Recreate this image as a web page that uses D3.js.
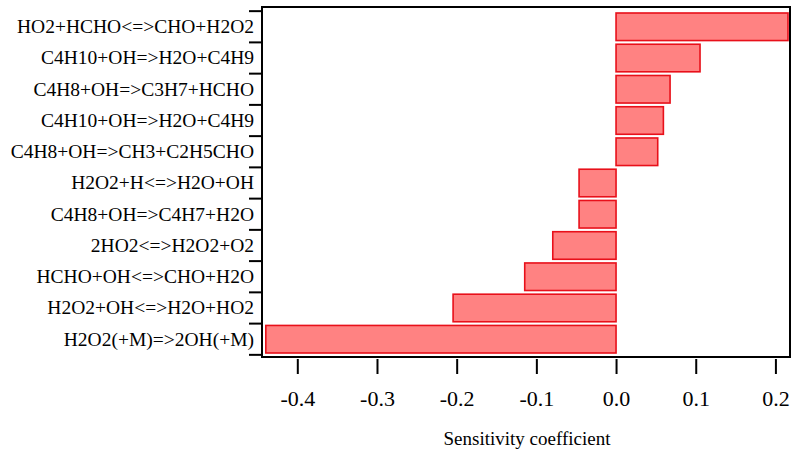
<!DOCTYPE html>
<html>
<head>
<meta charset="utf-8">
<script src="https://cdn.jsdelivr.net/npm/d3@7"></script>
<style>
  html, body { margin: 0; padding: 0; background: #fff; }
  svg { display: block; }
  text { font-family: "Liberation Serif", Tinos, "Times New Roman", Times, "DejaVu Serif", serif; fill: #000; }
</style>
</head>
<body>
<svg id="chart" width="800" height="451"></svg>
<script>
const reactions = [
  "HO2+HCHO<=>CHO+H2O2",
  "C4H10+OH=>H2O+C4H9",
  "C4H8+OH=>C3H7+HCHO",
  "C4H10+OH=>H2O+C4H9 ",
  "C4H8+OH=>CH3+C2H5CHO",
  "H2O2+H<=>H2O+OH",
  "C4H8+OH=>C4H7+H2O",
  "2HO2<=>H2O2+O2",
  "HCHO+OH<=>CHO+H2O",
  "H2O2+OH<=>H2O+HO2",
  "H2O2(+M)=>2OH(+M)"
];
const sensitivity = [0.2158, 0.1054, 0.0678, 0.0594, 0.0523, -0.0464, -0.0464, -0.0794, -0.1146, -0.2045, -0.4395];
const xTickValues = [-0.4, -0.3, -0.2, -0.1, 0.0, 0.1, 0.2];
const xTickLabels = ["-0.4", "-0.3", "-0.2", "-0.1", "0.0", "0.1", "0.2"];
const xDomain = [-0.4443, 0.2183];
const xTitle = "Sensitivity coefficient";

const FONT = '"Liberation Serif", Tinos, "Times New Roman", Times, "DejaVu Serif", serif';
const svg = d3.select("#chart");
const frame = { left: 262, right: 790, top: 7, bottom: 357 };

const x = d3.scaleLinear().domain(xDomain).range([frame.left, frame.right]);
const y = d3.scaleBand().domain(reactions).range([11.15, 354.85])
  .paddingInner(0.118).paddingOuter(0.059);

// bars
svg.append("g").selectAll("rect")
  .data(reactions.map((r, i) => ({ r, v: sensitivity[i] })))
  .join("rect")
  .attr("x", d => x(Math.min(0, d.v)))
  .attr("y", d => y(d.r))
  .attr("width", d => Math.abs(x(d.v) - x(0)))
  .attr("height", y.bandwidth())
  .attr("fill", "#ff8282")
  .attr("stroke", "#e8101a")
  .attr("stroke-width", 1.6);

// frame
svg.append("rect")
  .attr("x", frame.left).attr("y", frame.top)
  .attr("width", frame.right - frame.left)
  .attr("height", frame.bottom - frame.top)
  .attr("fill", "none").attr("stroke", "#000").attr("stroke-width", 2);

// x axis
const xAxis = d3.axisBottom(x)
  .tickValues(xTickValues)
  .tickFormat((d, i) => xTickLabels[i])
  .tickSize(15)
  .tickSizeOuter(0);
const gx = svg.append("g").attr("transform", `translate(0,${frame.bottom + 2})`).call(xAxis);
gx.attr("font-family", FONT);
gx.select(".domain").remove();
gx.selectAll(".tick line").attr("stroke", "#000").attr("stroke-width", 2);
gx.selectAll(".tick text")
  .attr("y", 46.5).attr("dy", 0)
  .style("font-size", "22px")
  .style("font-family", FONT);

// y axis: ticks at band boundaries, labels at band centers
const step = y.step();
const r0 = y.range()[0];
const boundaries = d3.range(reactions.length + 1).map(i => r0 + i * step);
svg.append("g").selectAll("line")
  .data(boundaries)
  .join("line")
  .attr("x1", frame.left - 13).attr("x2", frame.left)
  .attr("y1", d => d).attr("y2", d => d)
  .attr("stroke", "#000").attr("stroke-width", 2);

svg.append("g").selectAll("text")
  .data(reactions)
  .join("text")
  .attr("x", 254)
  .attr("y", d => y(d) + y.bandwidth() / 2)
  .attr("dy", "0.33em")
  .attr("text-anchor", "end")
  .style("font-size", "19.5px")
  .style("font-family", FONT)
  .text(d => d.trim());

// x title
svg.append("text")
  .attr("x", 527).attr("y", 445)
  .attr("text-anchor", "middle")
  .style("font-size", "19px")
  .style("font-family", FONT)
  .text(xTitle);
</script>
</body>
</html>
